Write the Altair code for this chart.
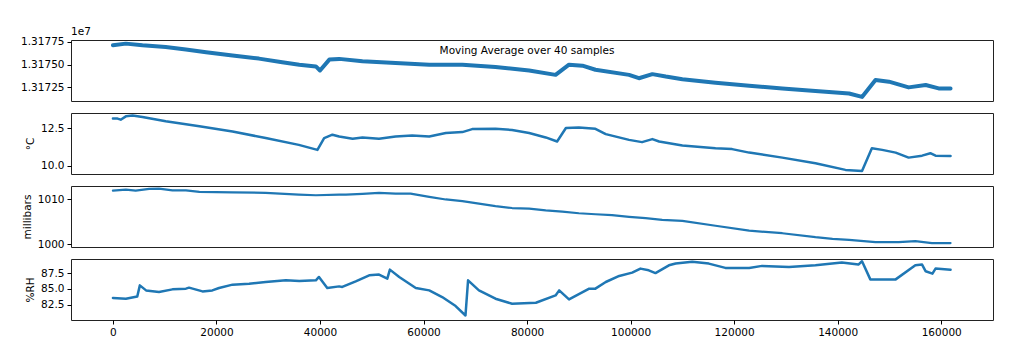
import altair as alt
import pandas as pd

# ---- data ----
x_ticks = [0, 20000, 40000, 60000, 80000, 100000, 120000, 140000, 160000]

x1 = [0, 2500, 5700, 10200, 14100, 18000, 23100, 28200, 32700, 36000,
      39200, 40000, 41800, 43700, 48200, 54600, 61100, 67500, 73900, 80400,
      85500, 88100, 90700, 93200, 99700, 101600, 104200, 106800, 110000, 116400,
      122900, 129300, 135700, 142200, 144700, 147300, 149900, 153700, 157000, 159500,
      161800]
v1 = [13177130, 13177320, 13177130, 13176940, 13176680, 13176380, 13176010, 13175670, 13175260, 13175000,
      13174810, 13174360, 13175560, 13175640, 13175370, 13175190, 13175000, 13175000, 13174740, 13174360,
      13173880, 13175000, 13174890, 13174440, 13173880, 13173510, 13173960, 13173690, 13173400, 13173020,
      13172680, 13172390, 13172090, 13171830, 13171450, 13173320, 13173130, 13172500, 13172760, 13172390,
      13172390]

x2 = [0, 900, 1500, 2500, 3800, 5700, 10200, 16700, 23100, 29500,
      35900, 39500, 40800, 42400, 43700, 46300, 48200, 51400, 54600, 57800,
      61100, 64300, 67500, 69400, 73900, 77100, 80400, 83600, 85800, 87500,
      90000, 93200, 95200, 99700, 102200, 104200, 105500, 110000, 116400, 119600,
      122900, 129300, 135700, 141500, 144700, 146600, 148600, 151200, 153700, 156300,
      157900, 158900, 161800]
v2 = [13.12, 13.12, 13.05, 13.27, 13.32, 13.23, 12.94, 12.61, 12.27, 11.84,
      11.39, 11.06, 11.84, 12.06, 11.94, 11.79, 11.88, 11.79, 11.94, 12.01,
      11.94, 12.17, 12.23, 12.43, 12.45, 12.37, 12.17, 11.88, 11.61, 12.50,
      12.54, 12.45, 12.10, 11.72, 11.57, 11.77, 11.61, 11.35, 11.17, 11.11,
      10.88, 10.55, 10.18, 9.74, 9.67, 11.17, 11.06, 10.88, 10.55, 10.68,
      10.84, 10.68, 10.66]

x3 = [0, 2500, 4400, 7000, 8900, 11500, 14100, 16700, 23100, 29500,
      35900, 39200, 43700, 45000, 48200, 51400, 54600, 57500, 61100, 64300,
      67500, 70700, 73900, 77100, 80400, 83600, 86800, 90000, 93200, 96400,
      99700, 102900, 106100, 110000, 116400, 122900, 129300, 135700, 139000, 142200,
      147300, 151800, 155000, 158200, 161800]
v3 = [1011.99, 1012.21, 1011.99, 1012.36, 1012.43, 1012.05, 1012.05, 1011.70, 1011.61, 1011.48,
      1011.10, 1010.95, 1011.10, 1011.10, 1011.26, 1011.48, 1011.32, 1011.32, 1010.60, 1010.00,
      1009.62, 1009.05, 1008.52, 1008.08, 1007.95, 1007.57, 1007.28, 1006.91, 1006.69, 1006.47,
      1006.09, 1005.80, 1005.43, 1005.21, 1004.10, 1003.00, 1002.43, 1001.54, 1001.17, 1000.95,
      1000.44, 1000.44, 1000.66, 1000.22, 1000.22]

x4 = [0, 2500, 4700, 5200, 6400, 8900, 11500, 14100, 14700, 17300,
      19200, 20500, 23100, 26300, 29500, 33400, 36000, 39200, 39800, 41400,
      43700, 44300, 46900, 49500, 51400, 53000, 53500, 55300, 58500, 61100,
      63600, 66200, 68100, 68600, 70700, 73900, 77100, 81700, 85500, 86200,
      88100, 92000, 93200, 95200, 97800, 100300, 101900, 103500, 104800, 107400,
      108700, 111900, 115100, 118300, 122900, 125400, 130600, 135700, 140800, 144000,
      144700, 146300, 148600, 151200, 155000, 156300, 157000, 158300, 158900, 161800]
v4 = [83.58, 83.47, 83.83, 85.57, 84.78, 84.53, 84.94, 85.05, 85.21, 84.62,
      84.78, 85.16, 85.68, 85.84, 86.10, 86.36, 86.26, 86.36, 86.89, 85.16,
      85.41, 85.32, 86.20, 87.14, 87.26, 86.62, 88.04, 86.89, 85.16, 84.78,
      83.74, 82.32, 80.84, 86.36, 84.78, 83.47, 82.68, 82.84, 83.99, 84.78,
      83.36, 85.05, 85.05, 86.10, 87.05, 87.57, 88.20, 87.93, 87.50, 88.72,
      88.99, 89.26, 88.99, 88.31, 88.31, 88.63, 88.47, 88.72, 89.15, 88.83,
      89.35, 86.51, 86.51, 86.51, 88.72, 88.83, 87.78, 87.41, 88.20, 88.04]

y1_ticks = [13172500, 13175000, 13177500]
y2_ticks = [10.0, 12.5]
y3_ticks = [1000, 1010]
y4_ticks = [82.5, 85.0, 87.5]

title_text = "Moving Average over 40 samples"
offset_text = "1e7"
y_titles = ["", "°C", "millibars", "%RH"]

# ---- styling ----
FONT = "DejaVu Sans"
BLUE = "#1f77b4"
W, H = 922, 61
XDOM = [-8100, 170000]


def yaxis(ticks, label_expr, title):
    kw = dict(values=ticks, labelExpr=label_expr, grid=False, domain=False,
              tickSize=4, tickColor="#000", labelPadding=3, labelColor="#000",
              labelFont=FONT, labelFontSize=10.5, titleFont=FONT, titleFontSize=10.5,
              titleFontWeight="normal", titleColor="#000", titlePadding=5)
    if title:
        kw["title"] = title
    else:
        kw["title"] = ""
    return alt.Axis(**kw)


def panel(x, v, dom, ticks, label_expr, title, sw, show_x):
    df = pd.DataFrame({"x": x, "v": v})
    if show_x:
        xenc = alt.X("x:Q", scale=alt.Scale(domain=XDOM, nice=False, zero=False),
                     axis=alt.Axis(values=x_ticks, format="d", grid=False, domain=False,
                                   tickSize=4, tickColor="#000", labelPadding=3,
                                   labelColor="#000", labelFont=FONT, labelFontSize=10.5,
                                   title=""))
    else:
        xenc = alt.X("x:Q", scale=alt.Scale(domain=XDOM, nice=False, zero=False), axis=None)
    return alt.Chart(df).mark_line(color=BLUE, strokeWidth=sw, strokeJoin="round",
                                   strokeCap="round").encode(
        x=xenc,
        y=alt.Y("v:Q", scale=alt.Scale(domain=dom, nice=False, zero=False),
                axis=yaxis(ticks, label_expr, title)),
    ).properties(width=W, height=H)


p1_line = panel(x1, v1, [13171000, 13177720], y1_ticks,
                "format(datum.value / 1e7, '.5f')", y_titles[0], 4.0, False)
p1_title = alt.Chart(pd.DataFrame({"t": [title_text]})).mark_text(
    font=FONT, fontSize=10.5, color="#000", align="center", baseline="middle"
).encode(text="t:N", x=alt.value(456), y=alt.value(11))
p1_off = alt.Chart(pd.DataFrame({"t": [offset_text]})).mark_text(
    font=FONT, fontSize=10.5, color="#000", align="left", baseline="bottom"
).encode(text="t:N", x=alt.value(0), y=alt.value(-3))
p1 = alt.layer(p1_line, p1_title, p1_off)

p2 = panel(x2, v2, [9.47, 13.49], y2_ticks, "format(datum.value, '.1f')", y_titles[1], 2.5, False)
p3 = panel(x3, v3, [999.34, 1013.02], y3_ticks, "format(datum.value, 'd')", y_titles[2], 2.2, False)
p4 = panel(x4, v4, [80.13, 89.71], y4_ticks, "format(datum.value, '.1f')", y_titles[3], 2.5, True)

chart = alt.vconcat(p1, p2, p3, p4, spacing=12, bounds="flush").properties(
    padding={"left": 20, "top": 26, "right": 10, "bottom": 5},
    background="white",
).configure_view(stroke="#222", strokeWidth=1)

chart.save("out.html", embed_options={"renderer": "svg", "actions": False})
